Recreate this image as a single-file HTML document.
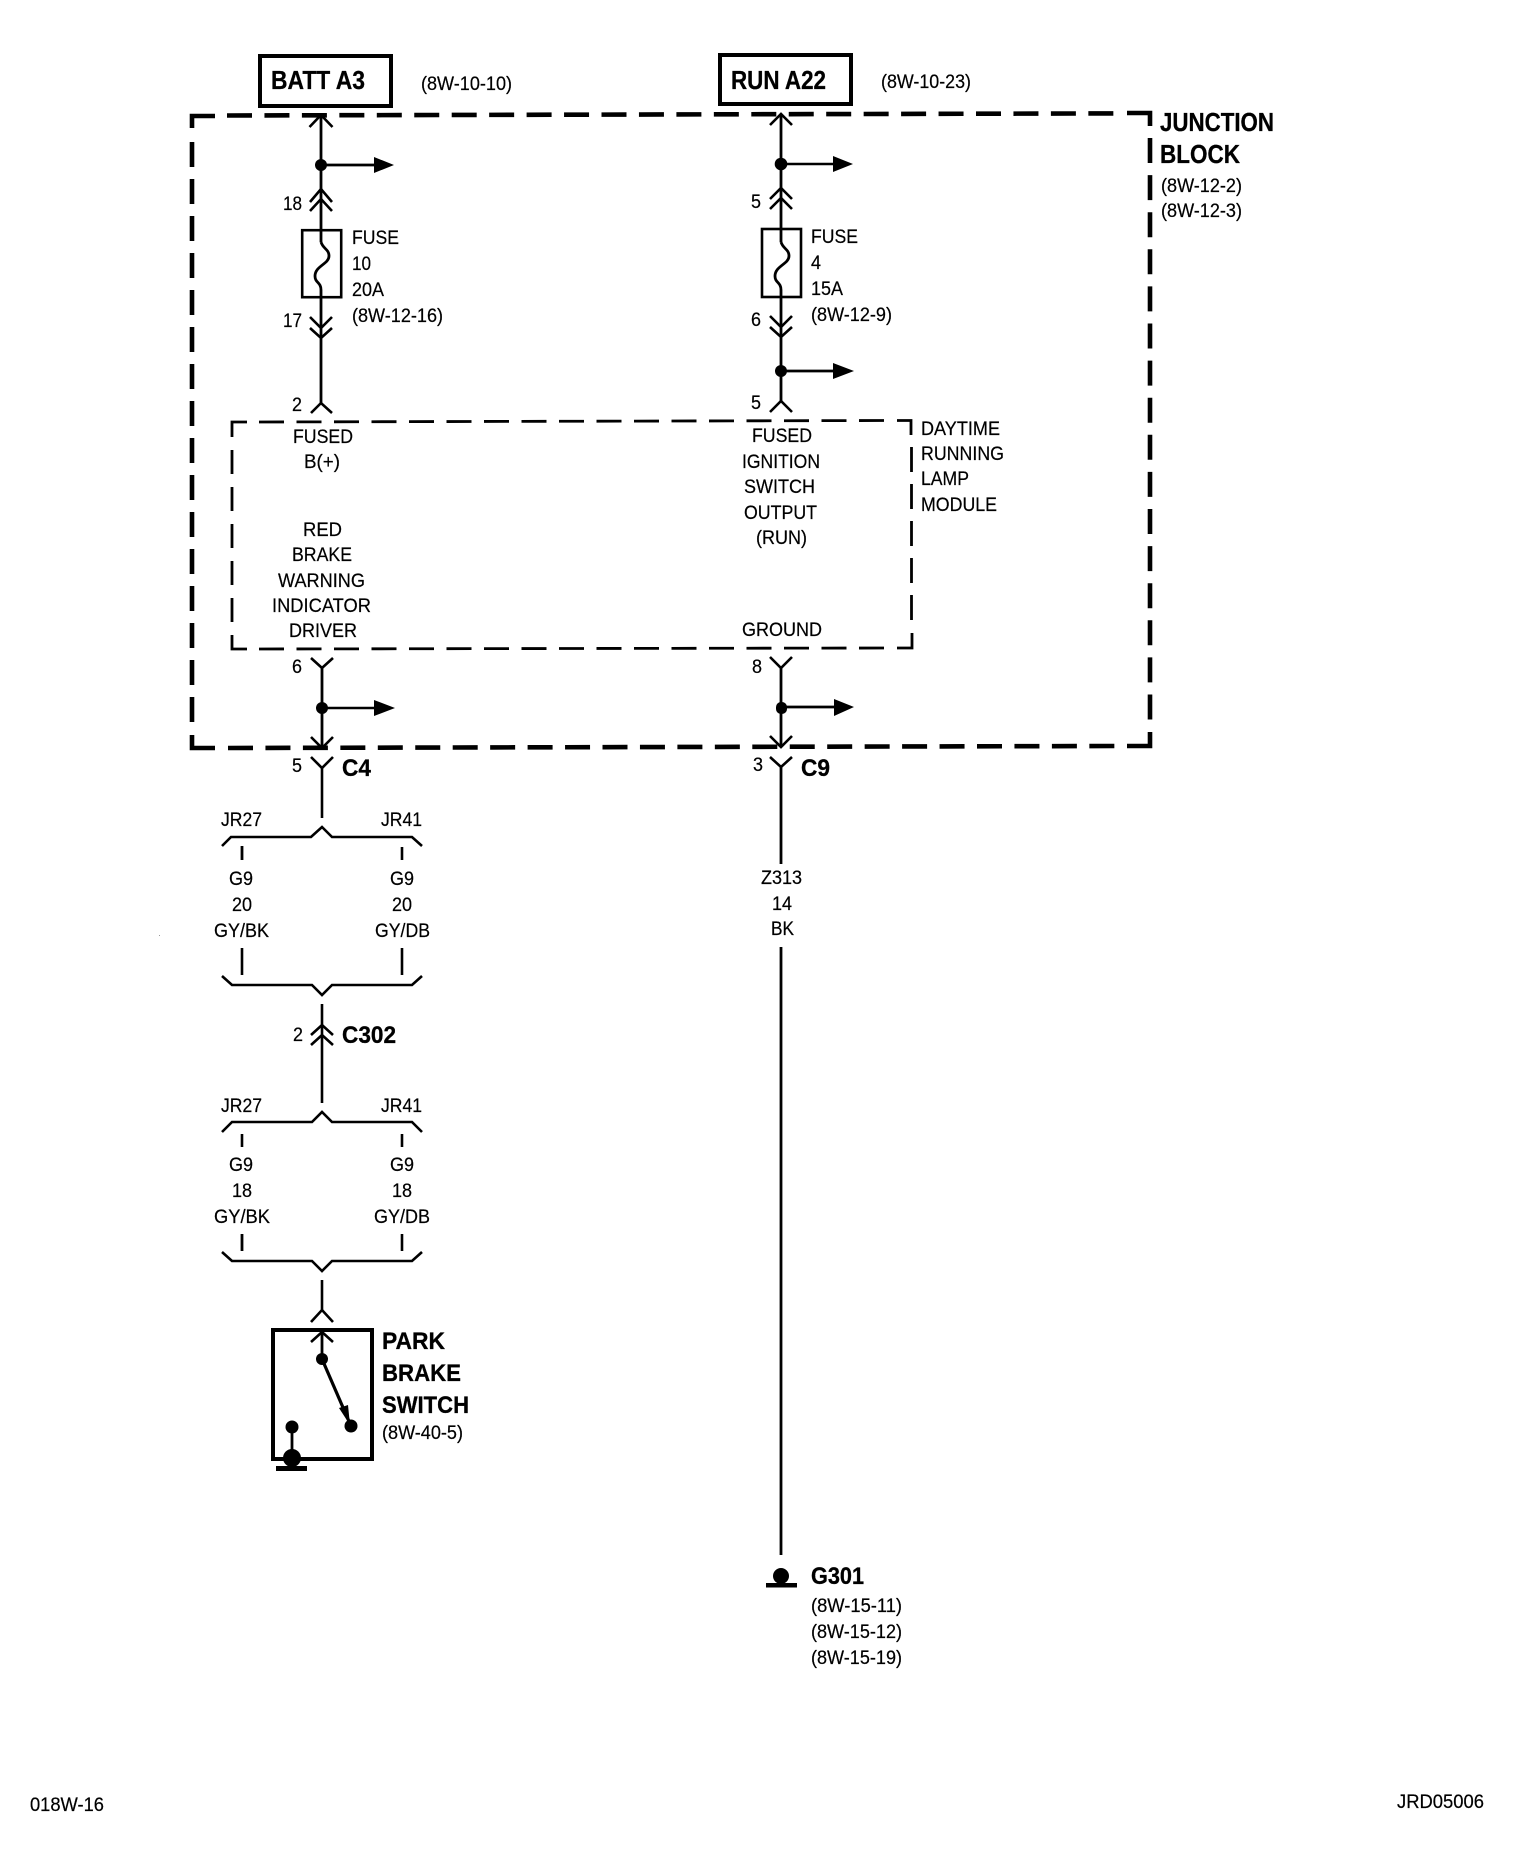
<!DOCTYPE html>
<html>
<head>
<meta charset="utf-8">
<title>Wiring diagram 018W-16</title>
<style>
html,body{margin:0;padding:0;background:#fff;}
svg{display:block;}
text{font-family:"Liberation Sans",sans-serif;fill:#000;}
.r{font-size:19px;stroke:#000;stroke-width:.2;}
.b{font-size:26px;font-weight:bold;stroke:#000;stroke-width:.3;}
.c{font-size:24px;font-weight:bold;stroke:#000;stroke-width:.3;}
.w{fill:none;stroke:#000;stroke-width:2.8;}
.t{fill:none;stroke:#000;stroke-width:2.6;}
.o{fill:none;stroke:#000;stroke-width:4.6;}
.i{fill:none;stroke:#000;stroke-width:2.8;}
</style>
</head>
<body>
<svg xmlns="http://www.w3.org/2000/svg" width="1536" height="1862" viewBox="0 0 1536 1862">
<rect width="1536" height="1862" fill="#fff"/>

<!-- Junction block outline -->
<g class="o">
<polyline class="o" points="192,128 192,116 215,116"/>
<line class="o" x1="227" y1="115.5" x2="1115" y2="113.4" stroke-dasharray="25 12.45"/>
<polyline class="o" points="1127,113 1150,113 1150,126"/>
<line class="o" x1="1150" y1="138" x2="1150" y2="722" stroke-dasharray="25 12.1"/>
<polyline class="o" points="1150,732 1150,746 1127,746"/>
<line class="o" x1="228" y1="748" x2="1115" y2="746" stroke-dasharray="25 12.45"/>
<polyline class="o" points="192,735 192,748 215,748"/>
<line class="o" x1="192" y1="142" x2="192" y2="723" stroke-dasharray="25 12"/>
</g>

<!-- Module outline -->
<polyline class="i" points="232,437 232,422 247,422"/>
<line class="i" x1="259" y1="422" x2="884" y2="420.5" stroke-dasharray="25 12.5"/>
<polyline class="i" points="897,420.5 911,420.5 911,435"/>
<line class="i" x1="911.5" y1="447" x2="911.5" y2="620" stroke-dasharray="25 12"/>
<polyline class="i" points="897,648 912,648 912,633"/>
<line class="i" x1="259" y1="649" x2="884" y2="648" stroke-dasharray="25 12.5"/>
<polyline class="i" points="232,635 232,649 247,649"/>
<line class="i" x1="232" y1="450" x2="232" y2="622" stroke-dasharray="24 13"/>

<!-- Top boxes -->
<rect x="260" y="56" width="131" height="50" fill="none" stroke="#000" stroke-width="4"/>
<rect x="720" y="55" width="131" height="49" fill="none" stroke="#000" stroke-width="4"/>

<!-- Left column -->
<line class="w" x1="321" y1="115" x2="321" y2="242"/>
<polyline class="t" points="309.500,127 321,115 332.500,127"/>
<circle cx="321" cy="165" r="6"/>
<line class="w" x1="321" y1="165" x2="376" y2="165"/>
<polygon points="374,157 394,165 374,173"/>
<polyline class="t" points="310,202 321,189 332,202"/>
<polyline class="t" points="310,211 321,199 332,211"/>
<rect x="302.200" y="230.200" width="39" height="67" fill="none" stroke="#000" stroke-width="2.600"/>
<path class="w" d="M321,242 C323,249 329,249 329,256 C329,264 315,266 315,276 C315,283 321,282 321,290 L321,338"/>
<polyline class="t" points="310,317 321,328 332,317"/>
<polyline class="t" points="310,328 321,338 332,328"/>
<line class="w" x1="321" y1="338" x2="321" y2="403"/>
<polyline class="t" points="311,413 321,403 332,413"/>

<polyline class="t" points="311,658 322,668 333,658"/>
<line class="w" x1="322" y1="668" x2="322" y2="748"/>
<circle cx="322" cy="708" r="6"/>
<line class="t" x1="322" y1="708" x2="376" y2="708"/>
<polygon points="374,700 395,708 374,716"/>
<polyline class="t" points="311,737 322,748 333,737"/>
<polyline class="t" points="311,757 322,768 333,757"/>
<line class="t" x1="322" y1="768" x2="322" y2="818"/>

<polyline class="t" points="222,846 231,837 311,837 322,827 332,837 412,837 422,846"/>
<line class="w" x1="242" y1="846" x2="242" y2="860"/>
<line class="t" x1="402" y1="847" x2="402" y2="860"/>
<line class="t" x1="242" y1="948" x2="242" y2="975"/>
<line class="t" x1="402" y1="948" x2="402" y2="975"/>
<polyline class="t" points="222,976 232,985 312,985 322,995 332,985 412,985 422,976"/>

<line class="t" x1="322" y1="1004" x2="322" y2="1103"/>
<polyline class="t" points="311,1035 322,1025 333,1035"/>
<polyline class="t" points="311,1045 322,1035 333,1045"/>

<polyline class="t" points="222,1132 232,1122 312,1122 322,1112 332,1122 412,1122 422,1132"/>
<line class="t" x1="242" y1="1134" x2="242" y2="1147"/>
<line class="t" x1="402" y1="1134" x2="402" y2="1147"/>
<line class="w" x1="242" y1="1234" x2="242" y2="1251"/>
<line class="t" x1="402" y1="1234" x2="402" y2="1251"/>
<polyline class="t" points="222,1252 232,1261 312,1261 322,1271 332,1261 412,1261 422,1252"/>
<line class="t" x1="322" y1="1280" x2="322" y2="1310"/>
<polyline class="t" points="311,1322 322,1310 333,1322"/>

<!-- Switch -->
<rect x="273" y="1330" width="99" height="129" fill="none" stroke="#000" stroke-width="4"/>
<polyline class="t" points="311,1342 322,1332 333,1342"/>
<line class="w" x1="322" y1="1332" x2="322" y2="1359"/>
<circle cx="322" cy="1359" r="6"/>
<line x1="322" y1="1359" x2="351" y2="1426" stroke="#000" stroke-width="3.200"/>
<polygon points="339,1408 348,1405 350,1425"/>
<circle cx="351" cy="1426" r="6.500"/>
<circle cx="292" cy="1427" r="6.500"/>
<line class="w" x1="292" y1="1427" x2="292" y2="1458"/>
<circle cx="292" cy="1458" r="9"/>
<rect x="276" y="1466" width="31" height="5"/>

<!-- Right column -->
<line class="w" x1="781" y1="114" x2="781" y2="242"/>
<polyline class="t" points="770,125 781,114 792,125"/>
<circle cx="781" cy="164" r="6.300"/>
<line class="t" x1="781" y1="164" x2="835" y2="164"/>
<polygon points="833,156 853,164 833,172"/>
<polyline class="t" points="770,199 781,188 792,199"/>
<polyline class="t" points="770,209 781,198 792,209"/>
<rect x="762" y="229" width="39" height="68" fill="none" stroke="#000" stroke-width="2.600"/>
<path class="w" d="M781,242 C783,249 789,249 789,256 C789,264 775,266 775,276 C775,283 781,282 781,290 L781,337"/>
<polyline class="t" points="770,316 781,327 792,316"/>
<polyline class="t" points="770,327 781,337 792,327"/>
<line class="w" x1="781" y1="337" x2="781" y2="401"/>
<circle cx="781" cy="371" r="6"/>
<line class="w" x1="781" y1="371" x2="835" y2="371"/>
<polygon points="833,363 854,371 833,379"/>
<polyline class="t" points="770,412 781,401 792,412"/>

<polyline class="t" points="770,657 781,668 792,657"/>
<line class="w" x1="781" y1="668" x2="781" y2="747"/>
<rect x="776" y="702" width="11" height="12" rx="5"/>
<line class="w" x1="781" y1="707" x2="835" y2="707"/>
<polygon points="834,699 854,707 834,716"/>
<polyline class="t" points="770,736 781,747 792,736"/>
<polyline class="t" points="770,757 781,767 792,757"/>
<line class="w" x1="781" y1="767" x2="781" y2="864"/>
<line class="w" x1="781" y1="947" x2="781" y2="1555"/>
<circle cx="781" cy="1576" r="8"/>
<rect x="766" y="1583" width="31" height="4.500"/>
<rect x="159" y="935" width="1" height="1" fill="#999"/>

<!-- Bold labels -->
<text class="b" x="271" y="89" textLength="94" lengthAdjust="spacingAndGlyphs">BATT A3</text>
<text class="b" x="731" y="89" textLength="95" lengthAdjust="spacingAndGlyphs">RUN A22</text>
<text class="b" x="1160" y="131" textLength="114" lengthAdjust="spacingAndGlyphs">JUNCTION</text>
<text class="b" x="1160" y="163" textLength="80" lengthAdjust="spacingAndGlyphs">BLOCK</text>
<text class="c" x="342" y="776" textLength="29" lengthAdjust="spacingAndGlyphs">C4</text>
<text class="c" x="801" y="776" textLength="29" lengthAdjust="spacingAndGlyphs">C9</text>
<text class="c" x="342" y="1043" textLength="54" lengthAdjust="spacingAndGlyphs">C302</text>
<text class="c" x="382" y="1349" textLength="63" lengthAdjust="spacingAndGlyphs">PARK</text>
<text class="c" x="382" y="1381" textLength="79" lengthAdjust="spacingAndGlyphs">BRAKE</text>
<text class="c" x="382" y="1413" textLength="87" lengthAdjust="spacingAndGlyphs">SWITCH</text>
<text class="c" x="811" y="1584" textLength="53" lengthAdjust="spacingAndGlyphs">G301</text>

<!-- Regular labels -->
<text class="r" x="421" y="90" textLength="91" lengthAdjust="spacingAndGlyphs">(8W-10-10)</text>
<text class="r" x="881" y="88" textLength="90" lengthAdjust="spacingAndGlyphs">(8W-10-23)</text>
<text class="r" x="1161" y="192" textLength="81" lengthAdjust="spacingAndGlyphs">(8W-12-2)</text>
<text class="r" x="1161" y="217" textLength="81" lengthAdjust="spacingAndGlyphs">(8W-12-3)</text>

<text class="r" x="283" y="210" textLength="19" lengthAdjust="spacingAndGlyphs">18</text>
<text class="r" x="283" y="327" textLength="19" lengthAdjust="spacingAndGlyphs">17</text>
<text class="r" x="292" y="411" textLength="10" lengthAdjust="spacingAndGlyphs">2</text>
<text class="r" x="352" y="244" textLength="47" lengthAdjust="spacingAndGlyphs">FUSE</text>
<text class="r" x="352" y="270" textLength="19" lengthAdjust="spacingAndGlyphs">10</text>
<text class="r" x="352" y="296" textLength="32" lengthAdjust="spacingAndGlyphs">20A</text>
<text class="r" x="352" y="322" textLength="91" lengthAdjust="spacingAndGlyphs">(8W-12-16)</text>
<text class="r" x="293" y="443" textLength="60" lengthAdjust="spacingAndGlyphs">FUSED</text>
<text class="r" x="304" y="468" textLength="36" lengthAdjust="spacingAndGlyphs">B(+)</text>
<text class="r" x="303" y="536" textLength="39" lengthAdjust="spacingAndGlyphs">RED</text>
<text class="r" x="292" y="561" textLength="60" lengthAdjust="spacingAndGlyphs">BRAKE</text>
<text class="r" x="278" y="587" textLength="87" lengthAdjust="spacingAndGlyphs">WARNING</text>
<text class="r" x="272" y="612" textLength="99" lengthAdjust="spacingAndGlyphs">INDICATOR</text>
<text class="r" x="289" y="637" textLength="68" lengthAdjust="spacingAndGlyphs">DRIVER</text>
<text class="r" x="292" y="673" textLength="10" lengthAdjust="spacingAndGlyphs">6</text>
<text class="r" x="292" y="772" textLength="10" lengthAdjust="spacingAndGlyphs">5</text>
<text class="r" x="221" y="826" textLength="41" lengthAdjust="spacingAndGlyphs">JR27</text>
<text class="r" x="381" y="826" textLength="41" lengthAdjust="spacingAndGlyphs">JR41</text>
<text class="r" x="229" y="885" textLength="24" lengthAdjust="spacingAndGlyphs">G9</text>
<text class="r" x="390" y="885" textLength="24" lengthAdjust="spacingAndGlyphs">G9</text>
<text class="r" x="232" y="911" textLength="20" lengthAdjust="spacingAndGlyphs">20</text>
<text class="r" x="392" y="911" textLength="20" lengthAdjust="spacingAndGlyphs">20</text>
<text class="r" x="214" y="937" textLength="55" lengthAdjust="spacingAndGlyphs">GY/BK</text>
<text class="r" x="375" y="937" textLength="55" lengthAdjust="spacingAndGlyphs">GY/DB</text>
<text class="r" x="293" y="1041" textLength="10" lengthAdjust="spacingAndGlyphs">2</text>
<text class="r" x="221" y="1112" textLength="41" lengthAdjust="spacingAndGlyphs">JR27</text>
<text class="r" x="381" y="1112" textLength="41" lengthAdjust="spacingAndGlyphs">JR41</text>
<text class="r" x="229" y="1171" textLength="24" lengthAdjust="spacingAndGlyphs">G9</text>
<text class="r" x="390" y="1171" textLength="24" lengthAdjust="spacingAndGlyphs">G9</text>
<text class="r" x="232" y="1197" textLength="20" lengthAdjust="spacingAndGlyphs">18</text>
<text class="r" x="392" y="1197" textLength="20" lengthAdjust="spacingAndGlyphs">18</text>
<text class="r" x="214" y="1223" textLength="56" lengthAdjust="spacingAndGlyphs">GY/BK</text>
<text class="r" x="374" y="1223" textLength="56" lengthAdjust="spacingAndGlyphs">GY/DB</text>
<text class="r" x="382" y="1439" textLength="81" lengthAdjust="spacingAndGlyphs">(8W-40-5)</text>

<text class="r" x="751" y="208" textLength="10" lengthAdjust="spacingAndGlyphs">5</text>
<text class="r" x="751" y="326" textLength="10" lengthAdjust="spacingAndGlyphs">6</text>
<text class="r" x="751" y="409" textLength="10" lengthAdjust="spacingAndGlyphs">5</text>
<text class="r" x="811" y="243" textLength="47" lengthAdjust="spacingAndGlyphs">FUSE</text>
<text class="r" x="811" y="269" textLength="10" lengthAdjust="spacingAndGlyphs">4</text>
<text class="r" x="811" y="295" textLength="32" lengthAdjust="spacingAndGlyphs">15A</text>
<text class="r" x="811" y="321" textLength="81" lengthAdjust="spacingAndGlyphs">(8W-12-9)</text>
<text class="r" x="752" y="442" textLength="60" lengthAdjust="spacingAndGlyphs">FUSED</text>
<text class="r" x="742" y="468" textLength="78" lengthAdjust="spacingAndGlyphs">IGNITION</text>
<text class="r" x="744" y="493" textLength="71" lengthAdjust="spacingAndGlyphs">SWITCH</text>
<text class="r" x="744" y="519" textLength="73" lengthAdjust="spacingAndGlyphs">OUTPUT</text>
<text class="r" x="756" y="544" textLength="51" lengthAdjust="spacingAndGlyphs">(RUN)</text>
<text class="r" x="921" y="435" textLength="79" lengthAdjust="spacingAndGlyphs">DAYTIME</text>
<text class="r" x="921" y="460" textLength="83" lengthAdjust="spacingAndGlyphs">RUNNING</text>
<text class="r" x="921" y="485" textLength="48" lengthAdjust="spacingAndGlyphs">LAMP</text>
<text class="r" x="921" y="511" textLength="76" lengthAdjust="spacingAndGlyphs">MODULE</text>
<text class="r" x="742" y="636" textLength="80" lengthAdjust="spacingAndGlyphs">GROUND</text>
<text class="r" x="752" y="673" textLength="10" lengthAdjust="spacingAndGlyphs">8</text>
<text class="r" x="753" y="771" textLength="10" lengthAdjust="spacingAndGlyphs">3</text>
<text class="r" x="761" y="884" textLength="41" lengthAdjust="spacingAndGlyphs">Z313</text>
<text class="r" x="772" y="910" textLength="20" lengthAdjust="spacingAndGlyphs">14</text>
<text class="r" x="771" y="935" textLength="23" lengthAdjust="spacingAndGlyphs">BK</text>
<text class="r" x="811" y="1612" textLength="91" lengthAdjust="spacingAndGlyphs">(8W-15-11)</text>
<text class="r" x="811" y="1638" textLength="91" lengthAdjust="spacingAndGlyphs">(8W-15-12)</text>
<text class="r" x="811" y="1664" textLength="91" lengthAdjust="spacingAndGlyphs">(8W-15-19)</text>

<text class="r" x="30" y="1811" textLength="74" lengthAdjust="spacingAndGlyphs">018W-16</text>
<text class="r" x="1397" y="1808" textLength="87" lengthAdjust="spacingAndGlyphs">JRD05006</text>
</svg>
</body>
</html>
